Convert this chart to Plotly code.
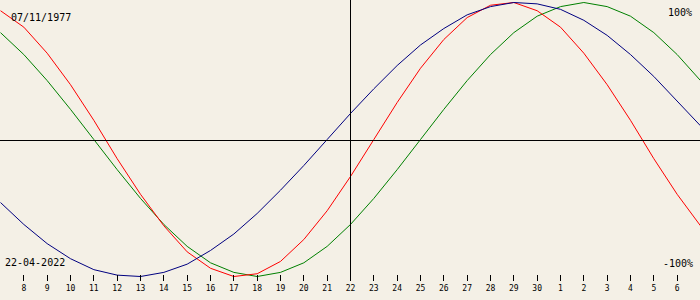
import plotly.graph_objects as go
import pandas as pd

# Daily dates shown (7 Apr 2022 .. 7 May 2022)
dates = [d.strftime("%Y-%m-%d") for d in pd.date_range("2022-04-07", "2022-05-07")]

# Biorhythm values (-1 .. 1)
physical = [0.94, 0.82, 0.63, 0.40, 0.14, -0.14, -0.40, -0.63, -0.82, -0.94, -1.00,
            -0.98, -0.89, -0.73, -0.52, -0.27, 0.00, 0.27, 0.52, 0.73, 0.89, 0.98,
            1.00, 0.94, 0.82, 0.63, 0.40, 0.14, -0.14, -0.40, -0.63]
emotional = [0.78, 0.62, 0.43, 0.22, 0.00, -0.22, -0.43, -0.62, -0.78, -0.90, -0.97,
             -1.00, -0.97, -0.90, -0.78, -0.62, -0.43, -0.22, 0.00, 0.22, 0.43, 0.62,
             0.78, 0.90, 0.97, 1.00, 0.97, 0.90, 0.78, 0.62, 0.43]
intellectual = [-0.46, -0.62, -0.76, -0.87, -0.95, -0.99, -1.00, -0.97, -0.91, -0.81, -0.69,
                -0.54, -0.37, -0.19, 0.00, 0.19, 0.37, 0.54, 0.69, 0.81, 0.91, 0.97,
                1.00, 0.99, 0.95, 0.87, 0.76, 0.62, 0.46, 0.28, 0.10]

tick_dates = dates[1:-1]
tick_labels = [str(pd.Timestamp(d).day) for d in tick_dates]

birth_label = "07/11/1977"
today_label = "22-04-2022"
today = "2022-04-22"
baseline = -0.0073  # the 0% line

BG = "#F4F0E6"
fig = go.Figure()
for vals, col in [(emotional, "#008000"), (physical, "#FF0000"), (intellectual, "#000080")]:
    fig.add_trace(go.Scatter(x=dates, y=vals, mode="lines",
                             line=dict(color=col, width=1), hoverinfo="skip",
                             showlegend=False))

fig.add_shape(type="line", xref="paper", yref="y", x0=0, x1=1, y0=baseline, y1=baseline,
              line=dict(color="black", width=1))
fig.add_shape(type="line", xref="x", yref="paper", x0=today, x1=today, y0=0, y1=1,
              line=dict(color="black", width=1))

mono = "DejaVu Sans Mono"
H = 281.0
def ann(text, x, y, xanchor):
    fig.add_annotation(text=text, xref="paper", yref="paper", x=x / 700.0,
                       y=1 - y / H, xanchor=xanchor, yanchor="middle",
                       showarrow=False, font=dict(family=mono, size=10, color="black"))

ann(birth_label, 9, 17, "left")
ann("100%", 694, 13, "right")
ann(today_label, 3, 262, "left")
ann("-100%", 695, 263, "right")

fig.update_layout(
    width=700, height=300,
    margin=dict(l=0, r=0, t=0, b=19),
    paper_bgcolor=BG, plot_bgcolor=BG,
    xaxis=dict(range=["2022-04-06 23:29:09", "2022-05-06 23:29:09"], tickmode="array",
               tickvals=tick_dates, ticktext=tick_labels, ticks="inside",
               ticklen=6, tickwidth=1, tickcolor="black", showgrid=False,
               zeroline=False, showline=False, ticklabelstandoff=1,
               tickfont=dict(family=mono, size=8, color="black")),
    yaxis=dict(range=[-1.03284, 1.01825], showticklabels=False, showgrid=False,
               zeroline=False, showline=False, ticks=""),
)
fig.write_html("out.html")
